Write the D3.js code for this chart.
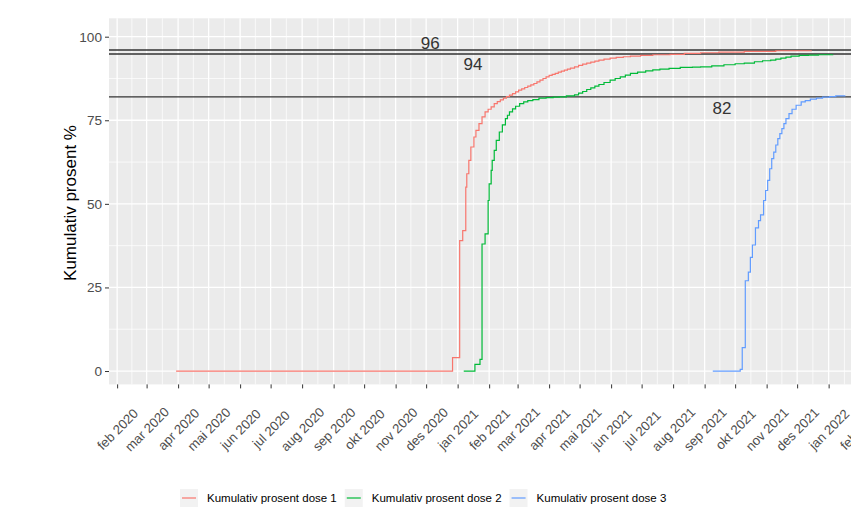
<!DOCTYPE html>
<html>
<head>
<meta charset="utf-8">
<script src="https://cdn.jsdelivr.net/npm/d3@7"></script>
<style>
  body { margin: 0; background: #fff; }
  svg { font-family: "Liberation Sans", Arial, sans-serif; }
</style>
</head>
<body>
<svg></svg>
<script>
// kumulativ prosent per dose, lest av bildet
const dose1Dates = ['2020-03-30', '2020-12-27', '2021-01-03', '2021-01-06', '2021-01-09', '2021-01-10',
  '2021-01-12', '2021-01-14', '2021-01-17', '2021-01-19', '2021-01-22', '2021-01-25', '2021-01-28',
  '2021-01-31', '2021-02-03', '2021-02-06', '2021-02-09', '2021-02-12', '2021-02-15', '2021-02-18',
  '2021-02-21', '2021-02-24', '2021-02-27', '2021-03-02', '2021-03-05', '2021-03-08', '2021-03-11',
  '2021-03-14', '2021-03-17', '2021-03-20', '2021-03-23', '2021-03-26', '2021-03-29', '2021-04-01',
  '2021-04-04', '2021-04-07', '2021-04-10', '2021-04-13', '2021-04-16', '2021-04-19', '2021-04-22',
  '2021-04-26', '2021-04-30', '2021-05-04', '2021-05-08', '2021-05-12', '2021-05-16', '2021-05-20',
  '2021-05-25', '2021-05-31', '2021-06-06', '2021-06-13', '2021-06-20', '2021-06-30', '2021-07-12',
  '2021-07-29', '2021-08-12', '2021-08-28', '2021-09-15', '2021-10-10', '2021-11-10', '2021-12-15']
const dose1Values = [0, 4, 39, 42, 55, 59,
  63, 67, 70, 72, 74, 76, 77.5,
  78.3, 79, 80, 80.6, 81.1, 81.6, 82.1,
  82.5, 83, 83.5, 84, 84.4, 84.8, 85.2,
  85.6, 86, 86.5, 87, 87.5, 88, 88.4,
  88.7, 89, 89.4, 89.7, 90, 90.3, 90.6,
  91, 91.4, 91.8, 92.1, 92.4, 92.7, 93,
  93.3, 93.6, 93.8, 94, 94.2, 94.4, 94.6,
  94.7, 95, 95.2, 95.4, 95.6, 95.8, 95.9]

const dose2Dates = ['2021-01-07', '2021-01-18', '2021-01-23', '2021-01-25', '2021-01-28', '2021-01-31',
  '2021-02-01', '2021-02-03', '2021-02-04', '2021-02-06', '2021-02-08', '2021-02-11', '2021-02-14',
  '2021-02-17', '2021-02-19', '2021-02-21', '2021-02-24', '2021-02-27', '2021-03-03', '2021-03-07',
  '2021-03-11', '2021-03-16', '2021-03-22', '2021-03-29', '2021-04-05', '2021-04-11', '2021-04-18',
  '2021-04-26', '2021-04-30', '2021-05-04', '2021-05-08', '2021-05-12', '2021-05-16', '2021-05-20',
  '2021-05-25', '2021-05-31', '2021-06-05', '2021-06-10', '2021-06-15', '2021-06-20', '2021-06-27',
  '2021-07-05', '2021-07-12', '2021-07-19', '2021-07-28', '2021-08-08', '2021-08-20', '2021-08-28',
  '2021-09-08', '2021-09-20', '2021-10-01', '2021-10-10', '2021-10-20', '2021-10-28', '2021-11-05',
  '2021-11-10', '2021-11-15', '2021-11-20', '2021-11-25', '2021-12-03', '2021-12-12', '2021-12-22',
  '2022-01-05']
const dose2Values = [0, 2, 3.5, 38, 41, 51,
  56, 60, 63, 66, 69, 71.5, 73.6,
  75.5, 76.5, 77.5, 78.4, 79.2, 80, 80.5,
  80.9, 81.2, 81.6, 81.8, 81.9, 82, 82.3,
  82.6, 83.1, 83.6, 84.2, 84.7, 85.2, 85.7,
  86.3, 87, 87.5, 88, 88.5, 89, 89.4,
  89.8, 90.1, 90.3, 90.5, 90.8, 90.9, 91,
  91.3, 91.6, 91.9, 92.1, 92.5, 92.8, 93,
  93.3, 93.6, 93.9, 94.2, 94.4, 94.5, 94.6,
  94.7]

const dose3Dates = ['2021-09-09', '2021-10-06', '2021-10-08', '2021-10-11', '2021-10-14', '2021-10-16',
  '2021-10-18', '2021-10-21', '2021-10-24', '2021-10-26', '2021-10-29', '2021-10-31', '2021-11-02',
  '2021-11-04', '2021-11-06', '2021-11-08', '2021-11-10', '2021-11-12', '2021-11-14', '2021-11-16',
  '2021-11-18', '2021-11-20', '2021-11-23', '2021-11-26', '2021-11-30', '2021-12-05', '2021-12-09',
  '2021-12-14', '2021-12-20', '2021-12-26', '2022-01-02', '2022-01-08', '2022-01-17']
const dose3Values = [0, 0.5, 7, 27, 29.6, 34,
  37.7, 42.8, 45, 46.7, 51, 54, 57,
  60.5, 63.5, 65.5, 67.6, 69.5, 71, 72.5,
  74, 75.5, 77, 78.3, 79.5, 80.5, 80.9,
  81.3, 81.6, 81.9, 82.1, 82.3, 82.4]

const seriesNames = ['Kumulativ prosent dose 1', 'Kumulativ prosent dose 2', 'Kumulativ prosent dose 3']
const seriesColors = ['#F8766D', '#00BA38', '#619CFF']

const refValues = [96, 94.8, 82]
const refLabels = ['96', '94', '82']
const refLabelDates = ['2020-12-05', '2021-01-16', '2021-09-18']
const refLabelValues = [97.9, 91.6, 78.4]

const monthLabels = ['jan', 'feb', 'mar', 'apr', 'mai', 'jun', 'jul', 'aug', 'sep', 'okt', 'nov', 'des']
const yTicks = [0, 25, 50, 75, 100]
const yMinor = [12.5, 37.5, 62.5, 87.5]

const parse = d3.utcParse('%Y-%m-%d')
const series = [
  [dose1Dates, dose1Values],
  [dose2Dates, dose2Values],
  [dose3Dates, dose3Values]
].map(([ds, vs], i) => ({
  name: seriesNames[i],
  color: seriesColors[i],
  values: ds.map((d, j) => ({date: parse(d), value: vs[j]}))
}))

const [svgWidth, svgHeight] = [851, 511]
const svg = d3.select('svg').attr('width', svgWidth).attr('height', svgHeight)

const panel = {left: 109, right: 851, top: 18.3, bottom: 384.4}

const x = d3.scaleUtc()
  .domain([parse('2020-01-24'), parse('2022-01-23')])
  .range([panel.left, panel.right])

const y = d3.scaleLinear()
  .domain([-4, 105.5])
  .range([panel.bottom, panel.top])

const monthTicks = d3.utcMonth.range(parse('2020-02-01'), parse('2022-02-02'))
const minorTicks = monthTicks.slice(1).map((d, i) => new Date((d.getTime() + monthTicks[i].getTime()) / 2))
minorTicks.unshift(parse('2020-01-16'))

const translate = (a, b) => `translate(${a}, ${b})`

svg.append('rect')
  .attr('x', panel.left).attr('y', panel.top)
  .attr('width', panel.right - panel.left).attr('height', panel.bottom - panel.top)
  .attr('fill', '#EBEBEB')

const grid = svg.append('g')
grid.selectAll('.vminor').data(minorTicks).enter().append('line')
  .attr('x1', d => x(d)).attr('x2', d => x(d))
  .attr('y1', panel.top).attr('y2', panel.bottom)
  .attr('stroke', '#fff').attr('stroke-width', 0.7)
grid.selectAll('.hminor').data(yMinor).enter().append('line')
  .attr('x1', panel.left).attr('x2', panel.right)
  .attr('y1', d => y(d)).attr('y2', d => y(d))
  .attr('stroke', '#fff').attr('stroke-width', 0.7)
grid.selectAll('.vmajor').data(monthTicks).enter().append('line')
  .attr('x1', d => x(d)).attr('x2', d => x(d))
  .attr('y1', panel.top).attr('y2', panel.bottom)
  .attr('stroke', '#fff').attr('stroke-width', 1.3)
grid.selectAll('.hmajor').data(yTicks).enter().append('line')
  .attr('x1', panel.left).attr('x2', panel.right)
  .attr('y1', d => y(d)).attr('y2', d => y(d))
  .attr('stroke', '#fff').attr('stroke-width', 1.3)

svg.append('g').selectAll('line').data(refValues).enter().append('line')
  .attr('x1', panel.left).attr('x2', panel.right)
  .attr('y1', d => y(d)).attr('y2', d => y(d))
  .attr('stroke', '#333').attr('stroke-width', 1.4)

const line = d3.line()
  .x(d => x(d.date))
  .y(d => y(d.value))
  .curve(d3.curveStepAfter)

svg.append('g').selectAll('path').data(series).enter().append('path')
  .attr('d', d => line(d.values))
  .attr('fill', 'none')
  .attr('stroke', d => d.color)
  .attr('stroke-width', 1.2)

svg.append('g').selectAll('text').data(refLabels).enter().append('text')
  .attr('x', (d, i) => x(parse(refLabelDates[i])))
  .attr('y', (d, i) => y(refLabelValues[i]))
  .attr('text-anchor', 'middle')
  .attr('dominant-baseline', 'central')
  .attr('font-size', 17)
  .attr('fill', '#333')
  .text(d => d)

const xAxis = d3.axisBottom(x)
  .tickValues(monthTicks)
  .tickSize(4)
  .tickFormat(d => `${monthLabels[d.getUTCMonth()]} ${d.getUTCFullYear()}`)

const xg = svg.append('g').call(xAxis)
  .attr('transform', translate(0, panel.bottom))
xg.select('.domain').remove()
xg.selectAll('.tick line').attr('stroke', '#333')
xg.selectAll('.tick text')
  .attr('y', 0).attr('dy', null)
  .attr('transform', 'translate(0, 45) rotate(-45)')
  .attr('text-anchor', 'middle')
  .attr('dominant-baseline', 'central')
  .attr('font-size', 13.2)
  .attr('font-family', '"Liberation Sans", Arial, sans-serif')
  .attr('fill', '#4D4D4D')

const yAxis = d3.axisLeft(y).tickValues(yTicks).tickSize(4).tickPadding(3)
const yg = svg.append('g').call(yAxis)
  .attr('transform', translate(panel.left, 0))
yg.select('.domain').remove()
yg.selectAll('.tick line').attr('stroke', '#333')
yg.selectAll('.tick text')
  .attr('font-size', 13.6)
  .attr('font-family', '"Liberation Sans", Arial, sans-serif')
  .attr('fill', '#4D4D4D')

svg.append('text')
  .attr('transform', translate(70, 203) + ' rotate(-90)')
  .attr('text-anchor', 'middle')
  .attr('dominant-baseline', 'central')
  .attr('font-size', 17)
  .attr('fill', '#000')
  .text('Kumulativ prosent %')

// legend
const legend = svg.append('g').attr('transform', translate(180, 498))
let lx = 0
series.forEach(s => {
  const item = legend.append('g').attr('transform', translate(lx, 0))
  item.append('rect')
    .attr('x', 0).attr('y', -9).attr('width', 18).attr('height', 18)
    .attr('fill', '#F2F2F2')
  item.append('line')
    .attr('x1', 2).attr('x2', 16).attr('y1', 0).attr('y2', 0)
    .attr('stroke', s.color).attr('stroke-width', 1.2)
  const t = item.append('text')
    .attr('x', 27).attr('y', 0)
    .attr('dominant-baseline', 'central')
    .attr('font-size', 11.5)
    .attr('fill', '#000')
    .text(s.name)
  lx += 27 + t.node().getComputedTextLength() + 8
})
</script>
</body>
</html>
